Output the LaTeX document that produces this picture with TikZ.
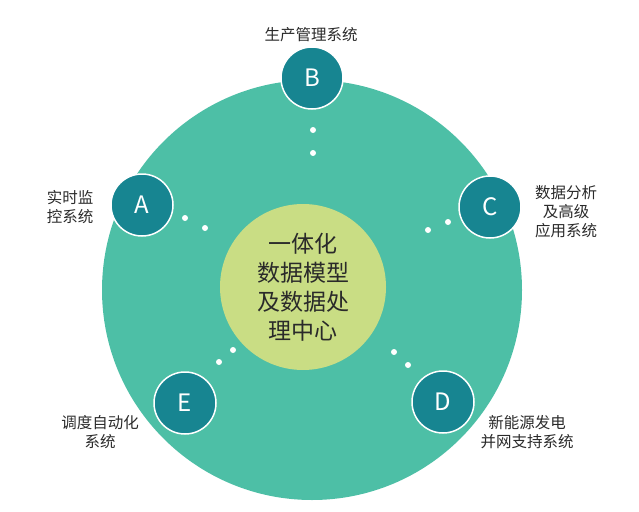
\documentclass[tikz,border=0pt]{standalone}
\usepackage{fontspec}
\setmainfont{Noto Sans CJK SC}
\definecolor{bigc}{HTML}{4DBFA6}
\definecolor{smallc}{HTML}{178591}
\definecolor{innerc}{HTML}{C9DD84}
\definecolor{txt}{HTML}{2A2A2A}
\begin{document}
\begin{tikzpicture}[x=1pt,y=-1pt,
  sm/.style={circle,fill=smallc,draw=white,line width=1.5pt,minimum size=62pt,inner sep=0,text=white,font=\fontsize{24}{24}\selectfont},
  lab/.style={text=txt,font=\fontsize{15.5}{19}\selectfont,align=center},
  dot/.style={circle,fill=white,inner sep=0,minimum size=6pt}]
\useasboundingbox (0,0) rectangle (639,511);
\node[circle,fill=bigc,minimum size=420pt,inner sep=0] (big) at (312,290) {};
\node[circle,fill=innerc,minimum size=166pt,inner sep=0,text=txt,font=\fontsize{23}{29}\selectfont,align=center] (core) at (303,287) {一体化\\数据模型\\及数据处\\理中心};
\node[sm] (A) at (142,205) {A};
\node[sm] (B) at (312,78) {B};
\node[sm] (C) at (490,207) {C};
\node[sm] (D) at (443,402) {D};
\node[sm] (E) at (185,403) {E};
\node[dot] (b1) at (313,130) {}; \node[dot] (b2) at (313,153) {};
\node[dot] (a1) at (185,218) {}; \node[dot] (a2) at (205,228) {};
\node[dot] (c1) at (428,230) {}; \node[dot] (c2) at (448,222) {};
\node[dot] (d1) at (394,352) {}; \node[dot] (d2) at (408,365) {};
\node[dot] (e1) at (233,350) {}; \node[dot] (e2) at (219,362) {};
\node[lab] (lb) at (311,35) {生产管理系统};
\node[lab] (la) at (70,207) {实时监\\控系统};
\node[lab] (lc) at (566,212) {数据分析\\及高级\\应用系统};
\node[lab] (ld) at (527,432) {新能源发电\\并网支持系统};
\node[lab] (le) at (100,432) {调度自动化\\系统};
\end{tikzpicture}
\end{document}
